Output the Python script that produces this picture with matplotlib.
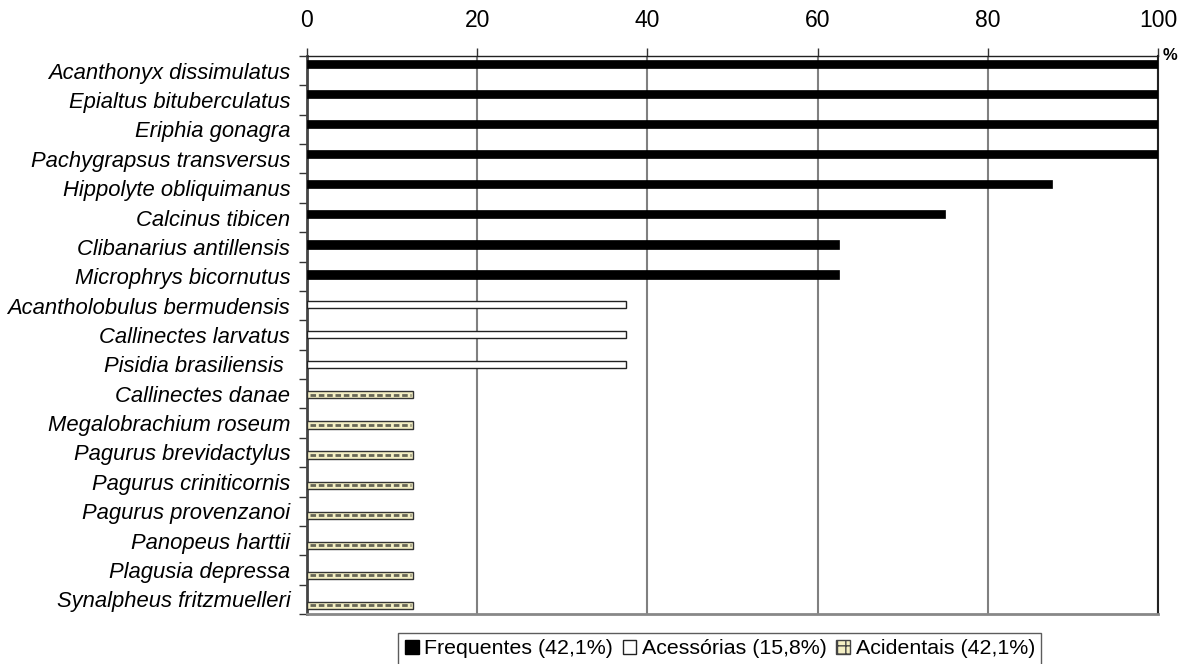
import matplotlib
matplotlib.use("Agg")
import matplotlib.pyplot as plt
from matplotlib.patches import Patch
import numpy as np

plt.rcParams['font.family'] = ['Liberation Sans', 'DejaVu Sans']

species = [
    "Acanthonyx dissimulatus", "Epialtus bituberculatus", "Eriphia gonagra",
    "Pachygrapsus transversus", "Hippolyte obliquimanus", "Calcinus tibicen",
    "Clibanarius antillensis", "Microphrys bicornutus",
    "Acantholobulus bermudensis", "Callinectes larvatus", "Pisidia brasiliensis ",
    "Callinectes danae", "Megalobrachium roseum", "Pagurus brevidactylus",
    "Pagurus criniticornis", "Pagurus provenzanoi", "Panopeus harttii",
    "Plagusia depressa", "Synalpheus fritzmuelleri",
]
frequency = [100, 100, 100, 100, 87.5, 75, 62.5, 62.5,
             37.5, 37.5, 37.5,
             12.5, 12.5, 12.5, 12.5, 12.5, 12.5, 12.5, 12.5]
category = ["F"] * 8 + ["Ac"] * 3 + ["Ai"] * 8
legend_labels = ["Frequentes (42,1%)", "Acessórias (15,8%)", "Acidentais (42,1%)"]
xticks = [0, 20, 40, 60, 80, 100]

W, H = 1184, 664
fig = plt.figure(figsize=(W / 100, H / 100), dpi=100)
L, R, T, B = 307, 1158, 56, 614
ax = fig.add_axes([L / W, 1 - B / H, (R - L) / W, (B - T) / H])

n = len(species)
ypos = np.arange(n)
ax.set_ylim(n - 0.5, -0.5)
ax.set_xlim(0, 100)
ax.set_yticks(ypos)
ax.set_yticklabels(species, fontstyle='italic', fontsize=15.8)
ax.set_yticks(np.arange(n + 1) - 0.5, minor=True)
ax.tick_params(axis='y', which='major', length=0, pad=12)
ax.tick_params(axis='y', which='minor', length=6, width=1, color='#333333', direction='out')

ax.xaxis.tick_top()
ax.set_xticks(xticks)
ax.set_xticklabels([str(v) for v in xticks], fontsize=16.5)
ax.tick_params(axis='x', which='major', length=6, width=1, color='#333333', pad=11)
ax.grid(axis='x', color='#808080', linewidth=1.5)
ax.set_axisbelow(True)

for side, c, lw in [('left', '#444444', 2), ('right', '#222222', 1.5),
                    ('top', '#222222', 1.0), ('bottom', '#888888', 2)]:
    ax.spines[side].set_color(c)
    ax.spines[side].set_linewidth(lw)

# bars on a twin axis (slight drift in bar spacing like the original)
ax2 = ax.twinx()
ax2.set_ylim(18.285, -0.266)
ax2.set_yticks([])
for s in ax2.spines.values():
    s.set_visible(False)

bh = 0.24
for i, (v, c) in enumerate(zip(frequency, category)):
    if c == "F":
        ax2.barh(i, v, height=bh + 0.03, color='black', edgecolor='black', linewidth=0.5)
    elif c == "Ac":
        ax2.barh(i, v, height=bh, color='white', edgecolor='#222222', linewidth=1.0)
    else:
        ax2.barh(i, v, height=bh, color='#f4efc4', edgecolor='#333333', linewidth=1.0)
        ax2.hlines(i, 0.3, v - 0.3, colors='#666655', linewidth=2.0,
                   linestyles=(0, (2.0, 1.0)))

ax.text(1.006, 1.0, "%", transform=ax.transAxes, fontsize=12, fontweight='bold',
        ha='left', va='center')

handles = [
    Patch(facecolor='black', edgecolor='black'),
    Patch(facecolor='white', edgecolor='#222222'),
    Patch(facecolor='#f4efc4', edgecolor='#444444', hatch='++'),
]
leg = fig.legend(handles, legend_labels, loc='upper center',
                 bbox_to_anchor=(0.608, 0.047), bbox_transform=fig.transFigure,
                 ncol=3, fontsize=15.4, frameon=True, fancybox=False,
                 handlelength=0.65, handleheight=0.65, handletextpad=0.25,
                 columnspacing=0.45, borderpad=0.3, borderaxespad=0)
leg.get_frame().set_edgecolor('#333333')
leg.get_frame().set_linewidth(1.0)

fig.savefig("out.png", dpi=100)
